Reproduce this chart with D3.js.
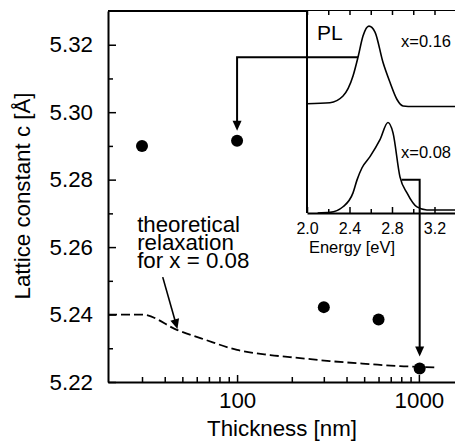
<!DOCTYPE html>
<html>
<head>
<meta charset="utf-8">
<script src="https://cdn.jsdelivr.net/npm/d3@7"></script>
<style>
  body { margin: 0; background: #fff; }
  svg { display: block; font-family: "Liberation Sans", Arial, Helvetica, sans-serif; }
</style>
</head>
<body>
<div id="chart"></div>
<script>
// Données
const thickness = [30, 100, 300, 600, 1010];          // nm
const latticeC = [5.290, 5.2915, 5.2422, 5.2385, 5.224]; // Å

// courbe théorique (x = 0.08)
const theoT = [19.5, 30, 47, 67, 100, 152, 222, 324, 538, 787, 1012, 1225];
const theoC = [5.240, 5.240, 5.2354, 5.2325, 5.2295, 5.2280, 5.2271, 5.2262, 5.2253, 5.2247, 5.2245, 5.2243];

// spectres PL (unités arbitraires)
const plE16 = [2.00, 2.216, 2.339, 2.433, 2.48, 2.527, 2.583, 2.64, 2.715, 2.781, 2.847, 2.904, 3.00, 3.393];
const plI16 = [0.541, 0.546, 0.579, 0.678, 0.771, 0.876, 0.925, 0.896, 0.746, 0.647, 0.562, 0.530, 0.527, 0.527];
const plE08 = [2.10, 2.216, 2.339, 2.433, 2.471, 2.518, 2.593, 2.687, 2.762, 2.809, 2.875, 2.941, 3.035, 3.129, 3.393];
const plI08 = [0, 0.003, 0.031, 0.0995, 0.164, 0.224, 0.279, 0.363, 0.448, 0.398, 0.179, 0.0995, 0.030, 0.015, 0.015];

const yMajor = [5.22, 5.24, 5.26, 5.28, 5.30, 5.32];
const yMinor = [5.23, 5.25, 5.27, 5.29, 5.31];
const xMajor = [100, 1000];
const xMinor = [30, 40, 50, 60, 70, 80, 90, 200, 300, 400, 500, 600, 700, 800, 900];
const eMajor = [2.0, 2.4, 2.8, 3.2];
const eMinor = [2.2, 2.6, 3.0];

const W = 455, H = 441;
const fs = "22.3px";

const svg = d3.select("#chart").append("svg")
    .attr("width", W).attr("height", H);

// Échelles
const x = d3.scaleLog().domain([19.5, 1580]).range([108, 455]);
const y = d3.scaleLinear().domain([5.22, 5.33]).range([382, 11]);
const e = d3.scaleLinear().domain([2.0, 3.393]).range([307, 455]);
const iy = d3.scaleLinear().domain([0, 1]).range([213, 11]);

// Courbe théorique en pointillés
svg.append("path")
    .datum(theoT.map((t, k) => [t, theoC[k]]))
    .attr("fill", "none")
    .attr("stroke", "#000")
    .attr("stroke-width", 1.8)
    .attr("stroke-dasharray", "9,4")
    .attr("d", d3.line().x(d => x(d[0])).y(d => y(d[1])).curve(d3.curveMonotoneX));

// Axe Y
const gy = svg.append("g").attr("transform", "translate(108,0)")
    .call(d3.axisLeft(y).tickValues(yMajor).tickFormat(d3.format(".2f"))
        .tickSize(-8).tickPadding(15).tickSizeOuter(0));
svg.append("g").attr("transform", "translate(108,0)")
    .call(d3.axisLeft(y).tickValues(yMinor).tickFormat("").tickSize(-5))
    .select(".domain").remove();

// Axe X
const gx = svg.append("g").attr("transform", "translate(0,382)")
    .call(d3.axisBottom(x).tickValues(xMajor).tickFormat(d3.format("d"))
        .tickSize(-7).tickPadding(10).tickSizeOuter(0));
svg.append("g").attr("transform", "translate(0,382)")
    .call(d3.axisBottom(x).tickValues(xMinor).tickFormat("").tickSize(-5))
    .select(".domain").remove();

[gx, gy].forEach(g => {
    g.selectAll("text").style("font-size", fs).attr("fill", "#000");
});
svg.selectAll(".domain").attr("stroke-width", 2);
svg.selectAll(".tick line").attr("stroke-width", 1.5);

// cadre haut
svg.append("line")
    .attr("x1", 108).attr("x2", W).attr("y1", y(5.33)).attr("y2", y(5.33))
    .attr("stroke", "#000").attr("stroke-width", 2);

// Titres d'axes
svg.append("text")
    .attr("x", 282).attr("y", 436)
    .attr("text-anchor", "middle").style("font-size", fs)
    .text("Thickness [nm]");
svg.append("text")
    .attr("transform", "translate(30,196) rotate(-90)")
    .attr("text-anchor", "middle").style("font-size", fs)
    .text("Lattice constant c [Å]");

// Points
svg.selectAll(".dot")
    .data(thickness.map((t, k) => [t, latticeC[k]]))
    .enter().append("circle")
    .attr("class", "dot")
    .attr("cx", d => x(d[0])).attr("cy", d => y(d[1]))
    .attr("r", 6).attr("fill", "#000");

// Encadré PL
const inset = svg.append("g");
inset.append("rect")
    .attr("x", e(2.0)).attr("y", iy(1))
    .attr("width", W - e(2.0)).attr("height", iy(0) - iy(1))
    .attr("fill", "#fff");

const plLine = d3.line().x(d => e(d[0])).y(d => iy(d[1])).curve(d3.curveMonotoneX);
inset.append("path")
    .datum(plE16.map((v, k) => [v, plI16[k]]))
    .attr("fill", "none").attr("stroke", "#000").attr("stroke-width", 1.6)
    .attr("d", plLine);
inset.append("path")
    .datum(plE08.map((v, k) => [v, plI08[k]]))
    .attr("fill", "none").attr("stroke", "#000").attr("stroke-width", 1.6)
    .attr("d", plLine);

const gi = inset.append("g").attr("transform", `translate(0,${iy(0)})`)
    .call(d3.axisBottom(e).tickValues(eMajor).tickFormat(d3.format(".1f"))
        .tickSize(-6).tickPadding(10).tickSizeOuter(0));
gi.selectAll("text").style("font-size", "16px").attr("fill", "#000");
gi.select(".domain").attr("stroke-width", 2);
inset.append("g").attr("transform", `translate(0,${iy(0)})`)
    .call(d3.axisBottom(e).tickValues(eMinor).tickFormat("").tickSize(-4))
    .select(".domain").remove();
inset.append("g").attr("transform", `translate(0,${iy(1)})`)
    .call(d3.axisTop(e).tickValues(eMajor.concat(eMinor)).tickFormat("").tickSize(-4))
    .select(".domain").remove();
inset.selectAll(".tick line").attr("stroke-width", 1.5);

inset.append("line")
    .attr("x1", e(2.0)).attr("x2", e(2.0)).attr("y1", iy(1)).attr("y2", iy(0))
    .attr("stroke", "#000").attr("stroke-width", 2);

inset.append("text").attr("x", 352).attr("y", 253)
    .attr("text-anchor", "middle").style("font-size", "16.5px")
    .text("Energy [eV]");
inset.append("text").attr("x", 317).attr("y", 40)
    .style("font-size", "21px").text("PL");
inset.append("text").attr("x", 401).attr("y", 47)
    .style("font-size", "16.5px").text("x=0.16");
inset.append("text").attr("x", 401).attr("y", 158)
    .style("font-size", "16.5px").text("x=0.08");

// Flèches
function arrowHead(x0, y0, x1, y1) {
    const a = Math.atan2(y1 - y0, x1 - x0);
    const L = 10, w = 4.5;
    const bx = x1 - L * Math.cos(a), by = y1 - L * Math.sin(a);
    const px = -Math.sin(a) * w, py = Math.cos(a) * w;
    svg.append("path")
        .attr("d", `M${x1},${y1}L${bx + px},${by + py}L${bx - px},${by - py}Z`)
        .attr("fill", "#000");
}

// x=0.16 -> 100 nm
const a1 = [e(2.48), iy(0.771)];
const a1x = x(100), a1y = y(5.2915) - 10;
svg.append("path")
    .attr("d", `M${a1[0]},${a1[1]}H${a1x}V${a1y - 6}`)
    .attr("fill", "none").attr("stroke", "#000").attr("stroke-width", 2);
arrowHead(a1x, a1[1], a1x, a1y);

// x=0.08 -> 1000 nm
const a2 = [e(2.89), iy(0.164)];
const a2x = x(1010), a2y = y(5.224) - 12;
svg.append("path")
    .attr("d", `M${a2[0]},${a2[1]}H${a2x}V${a2y - 6}`)
    .attr("fill", "none").attr("stroke", "#000").attr("stroke-width", 2);
arrowHead(a2x, a2[1], a2x, a2y);

// Annotation théorique
const noteLines = ["theoretical", "relaxation", "for x = 0.08"];
svg.append("g").selectAll("text")
    .data(noteLines).enter().append("text")
    .attr("x", x(28.2)).attr("y", (d, k) => y(5.2645) + k * 18)
    .style("font-size", fs)
    .text(d => d);

const n0 = [x(39), y(5.2511)], n1 = [x(47), y(5.2357)];
svg.append("line")
    .attr("x1", n0[0]).attr("y1", n0[1])
    .attr("x2", n1[0] - (n1[0] - n0[0]) * 0.15).attr("y2", n1[1] - (n1[1] - n0[1]) * 0.15)
    .attr("stroke", "#000").attr("stroke-width", 1.6);
arrowHead(n0[0], n0[1], n1[0], n1[1]);
</script>
</body>
</html>
